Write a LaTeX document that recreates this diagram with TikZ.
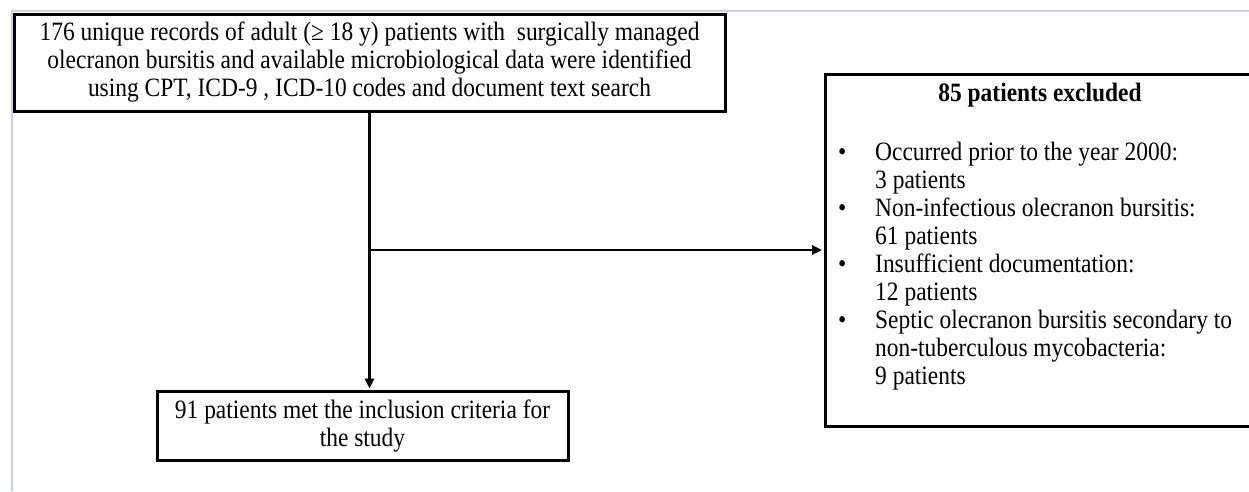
\documentclass[tikz,border=0pt]{standalone}
\usepackage{fontspec}
\setmainfont{Liberation Serif}[FakeStretch=0.885]
\usepackage{tikz}
\usetikzlibrary{arrows.meta, positioning, calc}
\definecolor{mydark}{RGB}{0,0,0}
\definecolor{myframe}{RGB}{201,211,232}
\tikzset{
  box/.style={rectangle, draw=mydark, line width=3pt, inner sep=0pt,
    align=center, font=\fontsize{26.5}{28}\selectfont},
  arrow/.style={-{Triangle[length=10pt, width=9pt]}, line width=2.8pt,
    color=mydark, shorten >=1.5pt},
  listtext/.style={inner sep=0pt, font=\fontsize{26.5}{28}\selectfont}
}

\begin{document}
\begin{tikzpicture}[x=1pt, y=-1pt]
    \useasboundingbox (0,0) rectangle (1249,491);
    \draw[myframe, line width=1.5pt] (12,491) -- (12,11) -- (1249,11);
    \node[box, minimum width=711pt, minimum height=97pt] (records) at (369.5,62.5)
      {176 unique records of adult (≥ 18 y) patients with~ surgically managed\\
       olecranon bursitis and available microbiological data were identified\\
       using CPT, ICD-9 , ICD-10 codes and document text search};
    \node[box, minimum width=411pt, minimum height=69pt] (included) at (362.5,426)
      {91 patients met the inclusion criteria for\\the study};
    \node[box, minimum width=426pt, minimum height=352pt] (excluded) at (1038,250) {};
    \node[listtext, font=\bfseries\fontsize{26.5}{28}\selectfont] (title) at (1040,95) {85 patients excluded};
    \node[listtext, anchor=base west] (reasons) at (838,160)
      {\begin{tabular}[t]{@{}p{37pt}@{}l@{}}
         \textbullet & Occurred prior to the year 2000:\\
                     & 3 patients\\
         \textbullet & Non-infectious olecranon bursitis:\\
                     & 61 patients\\
         \textbullet & Insufficient documentation:\\
                     & 12 patients\\
         \textbullet & Septic olecranon bursitis secondary to\\
                     & non-tuberculous mycobacteria:\\
                     & 9 patients
       \end{tabular}};
    \draw[arrow] (records.south) -- (records.south |- included.north);
    \coordinate (split) at (records.south |- excluded.west);
    \draw[arrow] (split) -- (excluded.west);
  \end{tikzpicture}
\end{document}
